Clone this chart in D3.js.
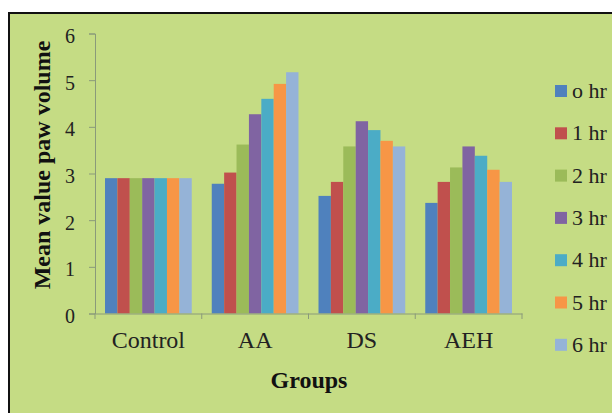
<!DOCTYPE html>
<html><head><meta charset="utf-8">
<script src="https://cdn.jsdelivr.net/npm/d3@7/dist/d3.min.js"></script>
<style>body{margin:0;background:#fff}svg{display:block}</style>
</head><body>
<script>
const groups = ["Control","AA","DS","AEH"];
const seriesNames = ["o hr","1 hr","2 hr","3 hr","4 hr","5 hr","6 hr"];
const colors = ["#4F81BD","#C0504D","#9BBB59","#8064A2","#4BACC6","#F79646","#95B3D7"];
const valControl = [2.9,2.9,2.9,2.9,2.9,2.9,2.9];
const valAA = [2.78,3.02,3.62,4.27,4.6,4.92,5.17];
const valDS = [2.52,2.82,3.58,4.12,3.93,3.7,3.58];
const valAEH = [2.37,2.82,3.13,3.58,3.38,3.08,2.82];
const yTicks = [0,1,2,3,4,5,6];
const values = [valControl,valAA,valDS,valAEH];

const W=612,H=413;
const svg=d3.select("body").append("svg").attr("width",W).attr("height",H);
svg.append("rect").attr("width",W).attr("height",H).attr("fill","#fff");
svg.append("rect").attr("x",9).attr("y",13).attr("width",W).attr("height",H)
  .attr("fill","#C5DC84").attr("stroke","#111").attr("stroke-width",2);

const x0=d3.scaleBand().domain(groups).range([95,522]).padding(0);
const x1=d3.scaleBand().domain(seriesNames).range([10,x0.bandwidth()-10]).padding(0);
const y=d3.scaleLinear().domain([0,6]).range([313.5,33.5]);

const serif="'Liberation Serif','Times New Roman',serif";

// bars
groups.forEach((g,gi)=>{
  svg.append("g").selectAll("rect").data(values[gi]).join("rect")
    .attr("x",(d,i)=>x0(g)+x1(seriesNames[i]))
    .attr("width",x1.bandwidth())
    .attr("y",d=>y(d)).attr("height",d=>y(0)-y(d))
    .attr("fill",(d,i)=>colors[i]);
});

// y axis
const ya=svg.append("g").attr("transform","translate(95,0)")
  .call(d3.axisLeft(y).tickValues(yTicks).tickSize(6).tickPadding(14).tickFormat(d3.format("d")));
ya.select(".domain").attr("stroke","#8a9a7a");
ya.selectAll(".tick line").attr("stroke","#8a9a7a");
ya.selectAll("text").attr("font-family",serif).attr("font-size",20).attr("fill","#222").attr("dy","0.45em");

// x axis
const xa=svg.append("g").attr("transform","translate(0,313.5)")
  .call(d3.axisBottom(x0).tickSize(0).tickPadding(22));
xa.select(".domain").attr("stroke","#8a9a7a");
xa.selectAll("text").attr("font-family",serif).attr("font-size",24).attr("fill","#222").attr("dy","0.5em");
// category boundary ticks
svg.append("g").selectAll("line").data(groups.concat(["end"])).join("line")
  .attr("x1",(d,i)=>i<groups.length?x0(d):x0.range()[1])
  .attr("x2",(d,i)=>i<groups.length?x0(d):x0.range()[1])
  .attr("y1",313.5).attr("y2",319).attr("stroke","#8a9a7a");

// titles
svg.append("text").attr("x",309).attr("y",388).attr("text-anchor","middle")
  .attr("font-family",serif).attr("font-weight","bold").attr("font-size",24).attr("fill","#111").text("Groups");
svg.append("text").attr("transform","translate(50,165) rotate(-90)").attr("text-anchor","middle")
  .attr("font-family",serif).attr("font-weight","bold").attr("font-size",24).attr("fill","#111").text("Mean value paw volume");

// legend
const leg=svg.append("g");
const lg=leg.selectAll("g").data(seriesNames).join("g")
  .attr("transform",(d,i)=>`translate(555,${91+i*42.3})`);
lg.append("rect").attr("x",0).attr("y",-6).attr("width",12).attr("height",12).attr("fill",(d,i)=>colors[i]);
lg.append("text").attr("x",17).attr("y",7).attr("font-family",serif).attr("font-size",22).attr("fill","#222").text(d=>d);
</script>
</body></html>
